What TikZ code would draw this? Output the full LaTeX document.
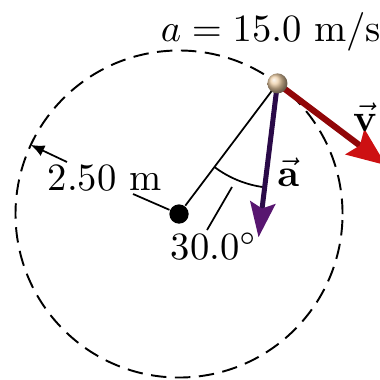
\documentclass[tikz,border=0pt]{standalone}
\usetikzlibrary{arrows.meta}
\definecolor{couleurbille}{RGB}{236,205,165}
\definecolor{violetfonce}{RGB}{42,10,72}
\definecolor{violetclair}{RGB}{88,22,112}
\definecolor{rougefonce}{RGB}{145,6,8}
\definecolor{rougevif}{RGB}{205,16,18}
\begin{document}
\begin{tikzpicture}[scale=0.595,
    trajectoire/.style={line width=0.5pt, dash pattern=on 4pt off 2.2pt},
    fin/.style={line width=0.45pt},
    point/.style={circle, fill=black, inner sep=0pt, minimum size=5pt},
    bille/.style={circle, shading=ball, ball color=couleurbille, inner sep=0pt, minimum size=5.2pt},
    texte/.style={anchor=base west, inner sep=0pt},
    vecA/.style={line width=1.3pt, violetfonce, -{Stealth[length=9pt, width=6.5pt, inset=1.5pt, color=violetclair]}},
    vecV/.style={line width=1.6pt, rougefonce, -{Stealth[length=10pt, width=8pt, inset=1.5pt, color=rougevif]}}]
    \useasboundingbox (-2.737,-2.523) rectangle (3.073,3.272);
    % Trajectoire
    \draw[trajectoire] (0,0) circle[radius=2.5];
    % Points
    \node[point] (O) at (0,0) {};
    \coordinate (P) at (53:2.5);
    \coordinate (A) at ([shift={(263:2.37)}]P);
    \coordinate (V) at ([shift={(-37:2.08)}]P);
    \draw[fin] (O) -- (P);
    % Angle
    \draw[fin] (P) ++(233:1.6) arc[start angle=233, end angle=263, radius=1.6];
    \coordinate (t1) at (0.428,-0.245);
    \coordinate (t2) at (0.810,0.413);
    \draw[fin] (t1) -- (t2);
    \node[texte] (angle) at (-0.138,-0.703) {30.0$^\circ$};
    % Rayon
    \node[texte] (rayon) at (-2.018,0.367) {2.50 m};
    \coordinate (r1) at (-0.703,0.306);
    \coordinate (r2) at (-1.713,0.795);
    \coordinate (R) at (155:2.5);
    \draw[fin] (O) -- (r1);
    \draw[fin, -{Latex[length=3.5pt, width=3pt]}] (r2) -- (R);
    % Vecteurs
    \draw[vecA] (P) -- (A);
    \draw[vecV] (P) -- (V);
    \node (la) at (1.667,0.642) {$\vec{\mathbf{a}}$};
    \node (lv) at (2.844,1.483) {$\vec{\mathbf{v}}$};
    \node[bille] (m) at (P) {};
    % Legende
    \node[texte] (acc) at (-0.29,2.63) {$a = 15.0$ m/s$^2$};
\end{tikzpicture}
\end{document}
